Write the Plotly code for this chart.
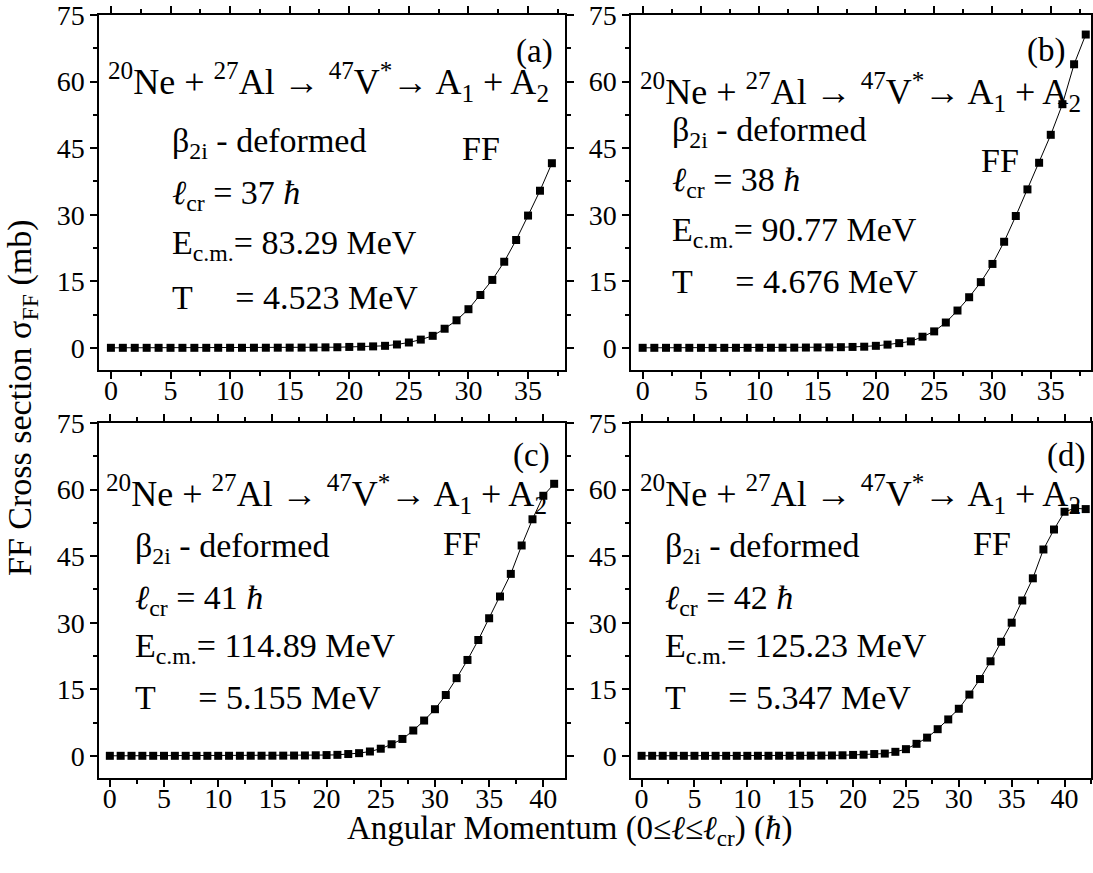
import plotly.graph_objects as go

W, H = 1093, 873

# ---------------- data ----------------
l_a = list(range(0, 38))
sig_a = [0.0, 0.0, 0.0, 0.0, 0.0, 0.0, 0.0, 0.0, 0.0, 0.01, 0.01, 0.01, 0.02, 0.02, 0.03, 0.04, 0.05, 0.07, 0.1, 0.13,
         0.2, 0.25, 0.32, 0.45, 0.75, 1.2, 1.85, 2.7, 4.3, 6.2, 8.7, 11.9, 15.3, 19.4, 24.3, 29.8, 35.4, 41.6]

l_b = list(range(0, 39))
sig_b = [0.0, 0.0, 0.0, 0.0, 0.0, 0.0, 0.0, 0.0, 0.01, 0.01, 0.02, 0.02, 0.03, 0.04, 0.06, 0.08, 0.1, 0.14,
         0.2, 0.25, 0.45, 0.72, 1.05, 1.45, 2.5, 3.7, 5.7, 8.4, 11.4, 14.8, 18.9, 23.9, 29.7, 35.7, 41.7, 48.0,
         54.9, 63.9, 70.6]

l_c = list(range(0, 42))
sig_c = [0.0, 0.0, 0.0, 0.0, 0.0, 0.0, 0.0, 0.0, 0.0, 0.0, 0.0, 0.01, 0.01, 0.02, 0.02, 0.03, 0.04, 0.06, 0.08, 0.12,
         0.17, 0.22, 0.4, 0.6, 0.97, 1.6, 2.6, 3.8, 5.7, 7.95, 10.5, 13.7, 17.5, 21.6, 26.1, 31.0, 35.9, 41.0,
         47.4, 53.3, 58.6, 61.3]

l_d = list(range(0, 43))
sig_d = [0.0, 0.0, 0.0, 0.0, 0.0, 0.0, 0.0, 0.0, 0.0, 0.0, 0.0, 0.01, 0.01, 0.02, 0.02, 0.03, 0.04, 0.06, 0.08, 0.12,
         0.2, 0.25, 0.4, 0.5, 0.9, 1.5, 2.7, 4.1, 6.0, 8.2, 10.6, 13.8, 17.3, 21.3, 25.7, 30.0, 35.0, 40.0,
         46.5, 51.0, 55.0, 55.8, 55.6]

panel_labels = ["(a)", "(b)", "(c)", "(d)"]
l_cr = ["37", "38", "41", "42"]
e_cm = ["83.29", "90.77", "114.89", "125.23"]
temp = ["4.523", "4.676", "5.155", "5.347"]

y_ticks = [0, 15, 30, 45, 60, 75]
x_ticks_top = [0, 5, 10, 15, 20, 25, 30, 35]
x_ticks_bot = [0, 5, 10, 15, 20, 25, 30, 35, 40]

FONT = "Liberation Serif, Times New Roman, serif"

# ---------------- layout geometry (pixels) ----------------
def px(x):
    return x / W

def py(y):
    return 1 - y / H

panels = [
    dict(x=l_a, y=sig_a, xd=[px(99), px(565)], yd=[py(370), py(15)], xr=[-1, 38.1], xt=x_ticks_top),
    dict(x=l_b, y=sig_b, xd=[px(631), px(1091)], yd=[py(370), py(15)], xr=[-1, 38.45], xt=x_ticks_top),
    dict(x=l_c, y=sig_c, xd=[px(99), px(565)], yd=[py(778), py(423)], xr=[-1, 42], xt=x_ticks_bot),
    dict(x=l_d, y=sig_d, xd=[px(631), px(1091)], yd=[py(778), py(423)], xr=[-1, 42.5], xt=x_ticks_bot),
]

fig = go.Figure()
layout = dict(
    width=W, height=H,
    margin=dict(l=0, r=0, t=0, b=0, autoexpand=False),
    paper_bgcolor="white", plot_bgcolor="white",
    showlegend=False,
    font=dict(family=FONT, color="black"),
)

axis_common = dict(
    showline=True, linecolor="black", linewidth=1.5, mirror="allticks",
    ticks="outside", ticklen=7, tickwidth=1.5, tickcolor="black",
    showgrid=False, zeroline=False, automargin=False,
    ticklabeloverflow="allow",
    tickfont=dict(family=FONT, size=28, color="black"),
)

for i, p in enumerate(panels):
    n = "" if i == 0 else str(i + 1)
    fig.add_trace(go.Scatter(
        x=p["x"], y=p["y"], mode="lines+markers",
        line=dict(color="black", width=1),
        marker=dict(symbol="square", size=8, color="black"),
        xaxis="x" + n, yaxis="y" + n,
    ))
    layout["xaxis" + n] = dict(
        axis_common, domain=p["xd"], range=p["xr"], anchor="y" + n,
        tickmode="array", tickvals=p["xt"], ticklabelstandoff=-12,
        minor=dict(ticks="outside", ticklen=4, tickwidth=1.5, tickcolor="black", dtick=2.5, tick0=0),
    )
    layout["yaxis" + n] = dict(
        axis_common, domain=p["yd"], range=[-5, 75], anchor="x" + n,
        tickmode="array", tickvals=y_ticks,
        minor=dict(ticks="outside", ticklen=4, tickwidth=1.5, tickcolor="black", dtick=7.5, tick0=0),
    )

fig.update_layout(**layout)

# ---------------- annotations ----------------
reaction = "<sup>20</sup>Ne + <sup>27</sup>Al → <sup>47</sup>V<sup>*</sup>→ A<sub>1</sub> + A<sub>2</sub>"

# pixel positions per panel
ann_pos = [
    dict(lab=(555, 51), rx=106, ry=82, tx=170, by=143, ly=195, ey=245, ty=297, ff=(481, 148)),
    dict(lab=(1067, 50), rx=638, ry=92, tx=670, by=132, ly=182, ey=232, ty=282, ff=(1000, 160)),
    dict(lab=(552, 455), rx=104, ry=494, tx=133, by=548, ly=600, ey=648, ty=697, ff=(462, 543)),
    dict(lab=(1087, 455), rx=638, ry=494, tx=663, by=548, ly=600, ey=648, ty=697, ff=(992, 543)),
]

def add_text(text, x, y, size=34, xanchor="left"):
    fig.add_annotation(
        text=text, x=px(x), y=py(y), xref="paper", yref="paper",
        xanchor=xanchor, yanchor="middle", showarrow=False,
        font=dict(family=FONT, size=size, color="black"),
    )

for i, a in enumerate(ann_pos):
    add_text(panel_labels[i], a["lab"][0], a["lab"][1], size=33, xanchor="right")
    add_text(reaction, a["rx"], a["ry"], size=36)
    add_text("β<sub>2i</sub> - deformed", a["tx"], a["by"], size=34)
    add_text("FF", a["ff"][0], a["ff"][1], size=34, xanchor="center")
    add_text("<i>ℓ</i><sub>cr</sub> = " + l_cr[i] + " <i>ħ</i>", a["tx"], a["ly"], size=34)
    add_text("E<sub>c.m.</sub>= " + e_cm[i] + " MeV", a["tx"], a["ey"], size=34)
    add_text("T&nbsp;&nbsp;&nbsp;&nbsp;&nbsp;= " + temp[i] + " MeV", a["tx"], a["ty"], size=34)

# axis titles
fig.add_annotation(
    text="FF Cross section σ<sub>FF</sub> (mb)", x=px(22), y=py(398), xref="paper", yref="paper",
    xanchor="center", yanchor="middle", textangle=-90, showarrow=False,
    font=dict(family=FONT, size=34, color="black"),
)
fig.add_annotation(
    text="Angular Momentum (0≤<i>ℓ</i>≤<i>ℓ</i><sub>cr</sub>) (<i>ħ</i>)", x=px(570), y=py(830),
    xref="paper", yref="paper", xanchor="center", yanchor="middle", showarrow=False,
    font=dict(family=FONT, size=33, color="black"),
)

fig.write_html("out.html")
